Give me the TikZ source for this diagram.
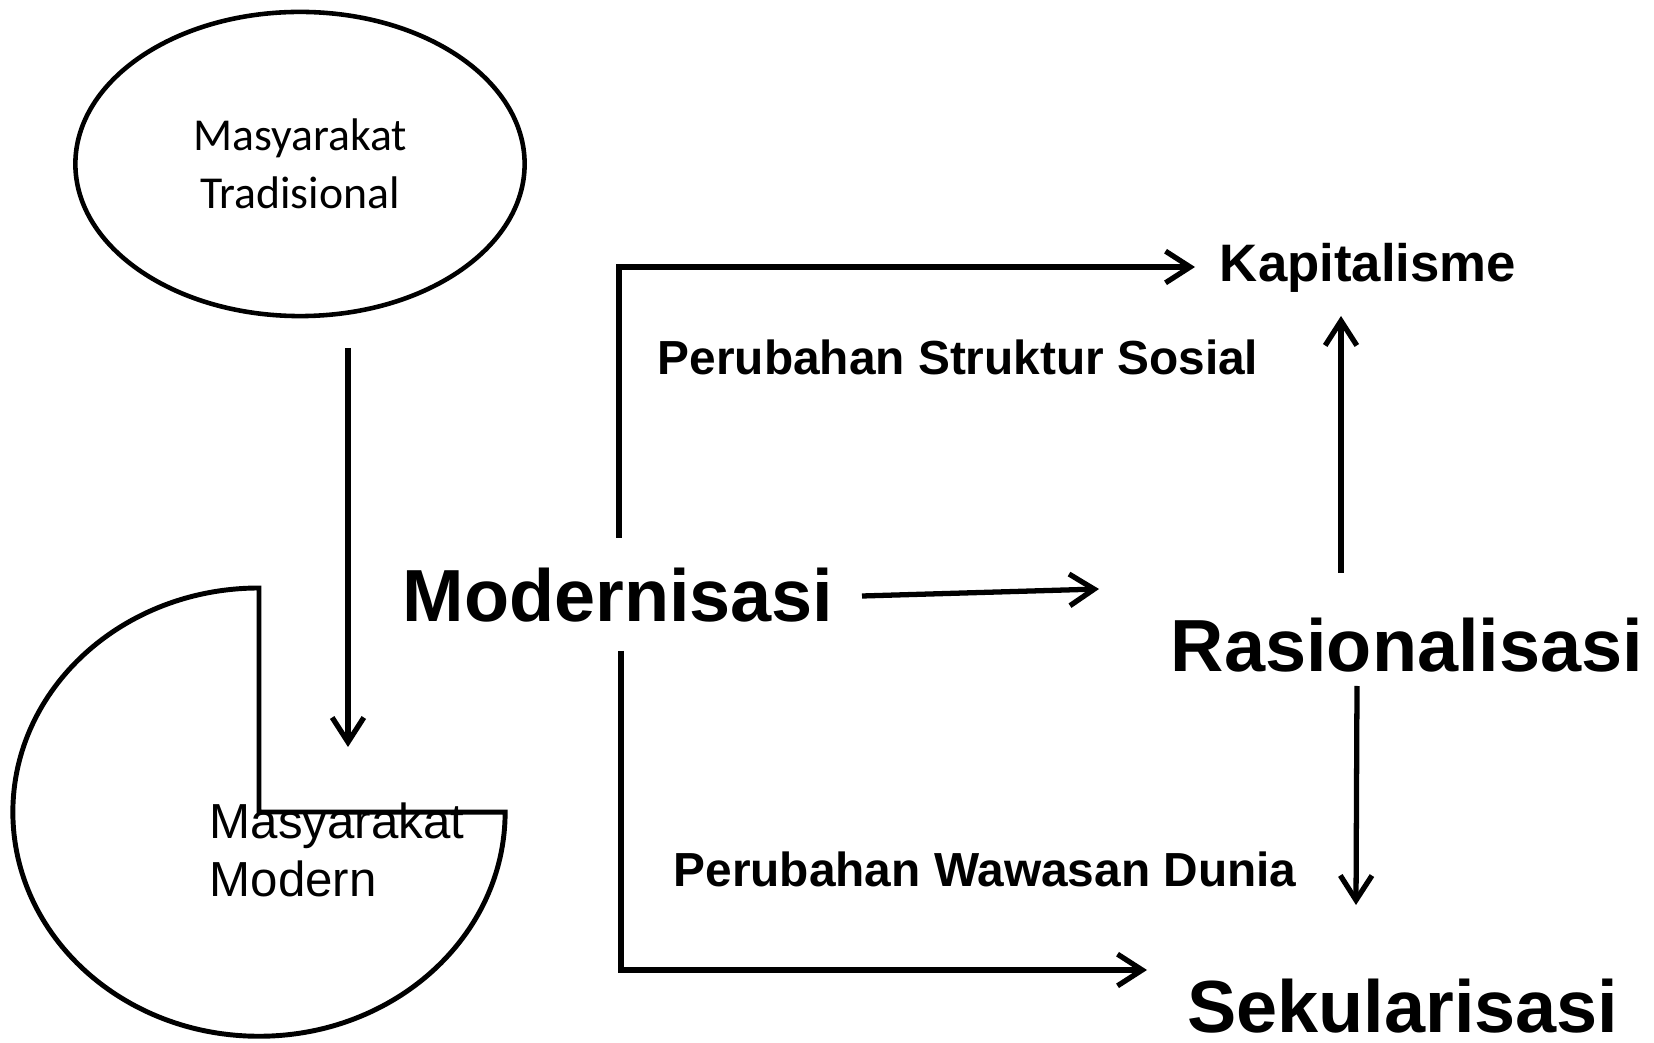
\documentclass[tikz,border=0pt]{standalone}
\usepackage{fontspec}
\setmainfont{Liberation Sans}
\newfontfamily\calibfont{Carlito}
\usetikzlibrary{arrows.meta,shapes.geometric}
\begin{document}
\begin{tikzpicture}[x=0.01cm,y=0.01cm,
  line/.style={line width=1.4pt},
  arr/.style={line width=1.5pt,-{Straight Barb[length=7pt,width=9pt]}},
  big/.style={font=\bfseries\fontsize{21}{25}\selectfont, inner sep=0pt, anchor=base},
  mid/.style={font=\bfseries\fontsize{13.6}{16}\selectfont, inner sep=0pt, anchor=base},
  kapst/.style={font=\bfseries\fontsize{15}{18}\selectfont, inner sep=0pt, anchor=base},
]
\useasboundingbox (0,0) rectangle (1654,1042);

% Traditional society ellipse
\node[ellipse, draw, line width=1.3pt, minimum width=4.49cm, minimum height=3.04cm,
      align=center, font=\calibfont\fontsize{13}{16.5}\selectfont] (trad) at (300,878)
      {Masyarakat\\Tradisional};

% Modern society pac-man shape
\draw[line] (259,454) arc[start angle=90, end angle=360, x radius=2.46cm, y radius=2.24cm]
      -- (259,230) -- cycle;
\node[anchor=base west, align=left, inner sep=0pt,
      font=\fontsize{14}{16.5}\selectfont] (modern) at (209,145)
      {Masyarakat\\Modern};

% main text nodes
\node[big] (mod) at (618,420) {Modernisasi};
\node[big] (rat) at (1407,370) {Rasionalisasi};
\node[big] (sek) at (1403,10) {Sekularisasi};
\node[kapst] (kap) at (1368,760) {Kapitalisme};
\node[mid] (pss) at (958,667) {Perubahan Struktur Sosial};
\node[mid] (pwd) at (985,156) {Perubahan Wawasan Dunia};

% connector end points
\coordinate (tradout) at (348,694);
\coordinate (modin) at (348,295);
\coordinate (modtop) at (619,504);
\coordinate (kapin) at (1195,775);
\coordinate (modbot) at (621,391);
\coordinate (sekin) at (1147,72);
\coordinate (modright) at (862,446);
\coordinate (ratin) at (1099,453);
\coordinate (rattop) at (1341,469);
\coordinate (kapbot) at (1341,726);
\coordinate (ratbot) at (1357,356);
\coordinate (sektop) at (1356,137);

% connectors
\draw[arr] (tradout) -- (modin);
\draw[arr] (modtop) |- (kapin);
\draw[arr] (modbot) |- (sekin);
\draw[arr] (modright) -- (ratin);
\draw[arr] (rattop) -- (kapbot);
\draw[arr] (ratbot) -- (sektop);
\end{tikzpicture}
\end{document}
